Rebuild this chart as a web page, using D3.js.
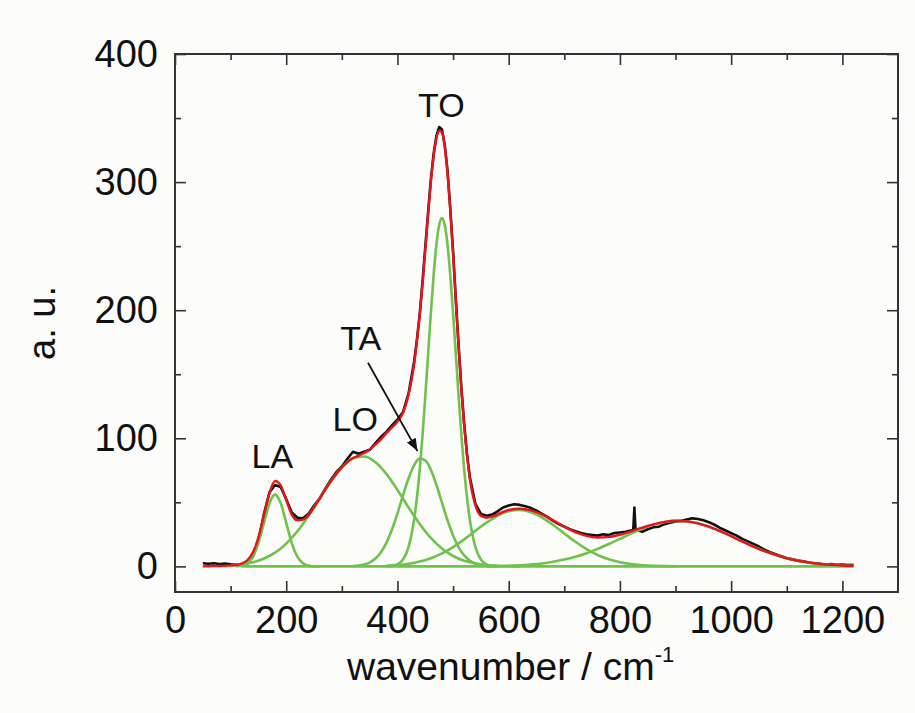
<!DOCTYPE html>
<html>
<head>
<meta charset="utf-8">
<script src="https://cdn.jsdelivr.net/npm/d3@7"></script>
<style>
  body { margin: 0; background: #fcfcfa; }
  text { font-family: "Liberation Sans", Arial, sans-serif; fill: #111; }
  .axis path { display: none; }
  .axis line { stroke: #333; stroke-width: 1.6; }
  .axis text { font-size: 38px; fill: #111; }
</style>
</head>
<body>
<div class="chart"></div>
<script>
// measured spectrum (black)
var dataX = [50,60,70,80,90,100,110,120,130,140,150,160,170,180,190,200,210,220,230,240,
  250,260,270,280,290,300,310,320,330,340,350,360,370,380,390,400,410,420,
  430,435,440,445,450,455,460,465,470,475,480,485,490,495,500,505,510,515,520,525,530,
  540,550,560,570,580,590,600,610,620,630,640,650,660,670,680,690,700,710,720,730,740,
  750,760,770,780,790,800,810,820,824,826,828,830,840,850,860,870,880,890,900,910,920,
  930,940,950,960,970,980,990,1000,1010,1020,1030,1040,1050,1060,1070,1080,1090,1100,
  1110,1120,1130,1140,1150,1160,1170,1180,1190,1200,1210,1220];
var dataY = [2.5,2.0,2.4,1.8,2.2,1.6,1.2,0.8,2.0,7.5,20,41,58,63.5,62,52.5,42,38,37.5,41,
  47.5,53,60.5,67.5,73.5,78,84,89.5,88,89.5,91,96,101,105,110,114.5,120.5,135,
  160,177,197,222,249,276,302,322,336,343,341,329,309,279,246,208,172,139,111,88,70,
  49,41,39.5,40.5,43,46,47.5,48.5,48,47,45.5,43.5,41,38.5,35.5,33,31,29,27.5,26,25,
  24.5,24,25,24.5,26,26.5,27,28,28.5,46,29,28.5,27,29,30.5,31,33,34,35,35.5,36.5,
  37.5,37,36,34.5,32.5,30,28,26,24,21.5,19.5,17.5,15.5,13,11,9.5,8,6.5,
  5.5,4.5,4,3,2.5,2,1.5,1.8,1.2,1.5,1.0,1.3];

// cumulative fit (red)
var fitX = [50,60,70,80,90,100,110,120,130,140,150,160,170,180,190,200,210,220,230,240,
  250,260,270,280,290,300,310,320,330,340,350,360,370,380,390,400,410,420,
  430,435,440,445,450,455,460,465,470,475,480,485,490,495,500,505,510,515,520,525,530,
  540,550,560,570,580,590,600,620,640,660,680,700,720,740,760,780,800,820,840,860,880,
  900,920,940,960,980,1000,1020,1040,1060,1080,1100,1120,1140,1160,1180,1200,1220];
var fitY = [0,0.1,0.2,0.3,0.5,0.7,1.1,2.2,4.8,10.8,22.6,40.1,57.5,66.7,63.3,51.8,40.4,36,36.5,40,
  46.1,52.8,59.7,66.2,72.2,77.3,81.5,84.6,86.4,88.5,91,95,99,104,108.5,113,120,134,
  158,176,196,220,247,274,300,320,334,340,339,328,307,278,244,207,171,138,110,87,69,
  48,39.5,38,38.8,40.6,42.5,44,45,43.7,40.4,35.9,31,26.7,23.8,22.6,23,24.7,27.4,30.2,32.8,34.7,
  35.6,35.1,33.6,31,27.5,23.6,19.5,15.5,11.9,8.9,6.3,4.4,2.9,1.9,1.2,0.7,0.4];

// fitted bands (green)
var laX = [110,120,130,140,150,160,170,180,190,200,210,220,230,240,250,260];
var laY = [0,0.6,2.5,7.6,18.2,34,49.4,56,49.4,34,18.2,7.6,2.5,0.6,0.1,0];

var loX = [100,120,140,160,180,200,220,240,260,280,300,320,340,360,380,400,420,440,
  460,480,500,520,540,560,580,600,620];
var loY = [0.7,1.6,3.2,6.1,10.7,17.8,27.4,39.4,52.8,66.2,77.3,84.4,85.8,81.5,72.2,59.7,46,33.1,
  22.2,13.9,8.1,4.4,2.3,1.1,0.5,0.2,0];

var taX = [320,330,340,350,360,370,380,390,400,410,420,430,440,450,460,470,480,490,
  500,510,520,530,540,550,560,570,580];
var taY = [0.2,0.6,1.4,3.0,5.9,10.8,18.3,28.6,41.4,55.5,68.8,79.1,84.1,82.8,75.5,63.7,49.8,36.0,
  24.1,14.9,8.6,4.6,2.2,1.0,0.4,0.2,0];

var toX = [380,390,400,410,420,430,435,440,445,450,455,460,465,470,475,480,485,490,495,
  500,505,510,515,520,525,530,540,550,560,570,580];
var toY = [0.1,0.4,1.6,5.4,15.3,36.8,53.8,75.6,102,132.4,165,197.5,227.2,251.1,266.6,272,266.6,
  251.1,227.2,197.5,165,132.4,102,75.6,53.8,36.8,15.3,5.4,1.6,0.4,0.1];

var p620X = [380,400,420,440,460,480,500,520,540,560,580,600,620,640,660,680,700,720,740,
  760,780,800,820,840,860,880,900];
var p620Y = [0.5,1.1,2.1,3.8,6.4,10.2,15.1,21.1,27.7,34.1,39.5,43.0,44.0,42.2,38.1,32.3,25.7,19.2,13.5,
  8.9,5.5,3.2,1.8,0.9,0.4,0.2,0.1];

var p900X = [560,580,600,620,640,660,680,700,720,740,760,780,800,820,840,860,880,900,920,
  940,960,980,1000,1020,1040,1060,1080,1100,1120,1140,1160,1180,1200,1220];
var p900Y = [0.2,0.3,0.5,0.9,1.5,2.3,3.6,5.3,7.5,10.3,13.7,17.5,21.5,25.6,29.3,32.4,34.5,35.5,35.1,
  33.6,31.0,27.5,23.6,19.5,15.5,11.9,8.9,6.3,4.4,2.9,1.9,1.2,0.7,0.4];

var baseX = [120, 1220];
var baseY = [0, 0];

// axis ticks
var xMajor = [0, 200, 400, 600, 800, 1000, 1200];
var xMinor = [100, 300, 500, 700, 900, 1100];
var yMajor = [0, 100, 200, 300, 400];
var yMinor = [50, 150, 250, 350];

// peak labels: [text, wavenumber, value at baseline]
var peakLabels = [["LA", 175, 77], ["LO", 324, 106], ["TA", 334, 169], ["TO", 479, 351]];
var taArrow = [[347, 159], [436, 90]];

var svgWidth = 915;
var svgHeight = 713;
var frame = { left: 175, right: 898, top: 54, bottom: 592 };

var svg = d3.select(".chart")
  .append("svg")
  .attr("width", svgWidth)
  .attr("height", svgHeight);

var x = d3.scaleLinear().domain([0, 1300]).range([frame.left, frame.right]);
var y = d3.scaleLinear().domain([-20, 400]).range([frame.bottom, frame.top]);

var line = d3.line()
  .x(function(d) { return x(d[0]); })
  .y(function(d) { return y(d[1]); });

var smooth = d3.line()
  .curve(d3.curveMonotoneX)
  .x(function(d) { return x(d[0]); })
  .y(function(d) { return y(d[1]); });

// data
svg.append("path")
  .attr("d", line(d3.zip(dataX, dataY)))
  .attr("fill", "none")
  .attr("stroke", "#111")
  .attr("stroke-width", 2.6)
  .attr("stroke-linejoin", "round");

// bands
var bands = [[laX, laY], [loX, loY], [taX, taY], [toX, toY], [p620X, p620Y], [p900X, p900Y], [baseX, baseY]];
bands.forEach(function(b) {
  svg.append("path")
    .attr("d", smooth(d3.zip(b[0], b[1])))
    .attr("fill", "none")
    .attr("stroke", "#6fc24b")
    .attr("stroke-width", 2.6);
});

// fit
svg.append("path")
  .attr("d", smooth(d3.zip(fitX, fitY)))
  .attr("fill", "none")
  .attr("stroke", "#e8141c")
  .attr("stroke-width", 2.4);

// ticks, inward on all four sides
function addAxis(axis, transform, labels) {
  var g = svg.append("g").attr("class", "axis").attr("transform", transform).call(axis);
  if (!labels) g.selectAll("text").remove();
  return g;
}

addAxis(d3.axisBottom(x).tickValues(xMajor).tickSize(-11).tickPadding(14).tickFormat(d3.format("d")),
  "translate(0," + frame.bottom + ")", true);
addAxis(d3.axisBottom(x).tickValues(xMinor).tickSize(-6), "translate(0," + frame.bottom + ")", false);
addAxis(d3.axisTop(x).tickValues(xMajor).tickSize(-11), "translate(0," + frame.top + ")", false);
addAxis(d3.axisTop(x).tickValues(xMinor).tickSize(-6), "translate(0," + frame.top + ")", false);

addAxis(d3.axisLeft(y).tickValues(yMajor).tickSize(-11).tickPadding(17).tickFormat(d3.format("d")),
  "translate(" + frame.left + ",0)", true);
addAxis(d3.axisLeft(y).tickValues(yMinor).tickSize(-6), "translate(" + frame.left + ",0)", false);
addAxis(d3.axisRight(y).tickValues(yMajor).tickSize(-11), "translate(" + frame.right + ",0)", false);
addAxis(d3.axisRight(y).tickValues(yMinor).tickSize(-6), "translate(" + frame.right + ",0)", false);

svg.append("rect")
  .attr("x", frame.left)
  .attr("y", frame.top)
  .attr("width", frame.right - frame.left)
  .attr("height", frame.bottom - frame.top)
  .attr("fill", "none")
  .attr("stroke", "#333")
  .attr("stroke-width", 2);

// peak labels
svg.selectAll(".peak")
  .data(peakLabels)
  .enter()
  .append("text")
  .attr("class", "peak")
  .attr("x", function(d) { return x(d[1]); })
  .attr("y", function(d) { return y(d[2]); })
  .attr("text-anchor", "middle")
  .style("font-size", "34px")
  .text(function(d) { return d[0]; });

// arrow to TA band
svg.append("defs").append("marker")
  .attr("id", "head")
  .attr("viewBox", "0 0 10 10")
  .attr("refX", 10)
  .attr("refY", 5)
  .attr("markerWidth", 7)
  .attr("markerHeight", 7)
  .attr("markerUnits", "strokeWidth")
  .attr("orient", "auto")
  .append("path")
  .attr("d", "M0,1 L10,5 L0,9 Z")
  .attr("fill", "#111");

svg.append("path")
  .attr("d", line(taArrow))
  .attr("stroke", "#111")
  .attr("stroke-width", 1.8)
  .attr("marker-end", "url(#head)");

// axis titles
var xTitle = svg.append("text")
  .attr("x", 347)
  .attr("y", 680)
  .style("font-size", "39px");
xTitle.append("tspan").text("wavenumber / cm");
xTitle.append("tspan")
  .attr("dy", -18)
  .style("font-size", "22px")
  .text("-1");

svg.append("text")
  .attr("transform", "translate(55," + (frame.top + frame.bottom) / 2 + ") rotate(-90)")
  .attr("text-anchor", "middle")
  .style("font-size", "38px")
  .text("a. u.");
</script>
</body>
</html>
